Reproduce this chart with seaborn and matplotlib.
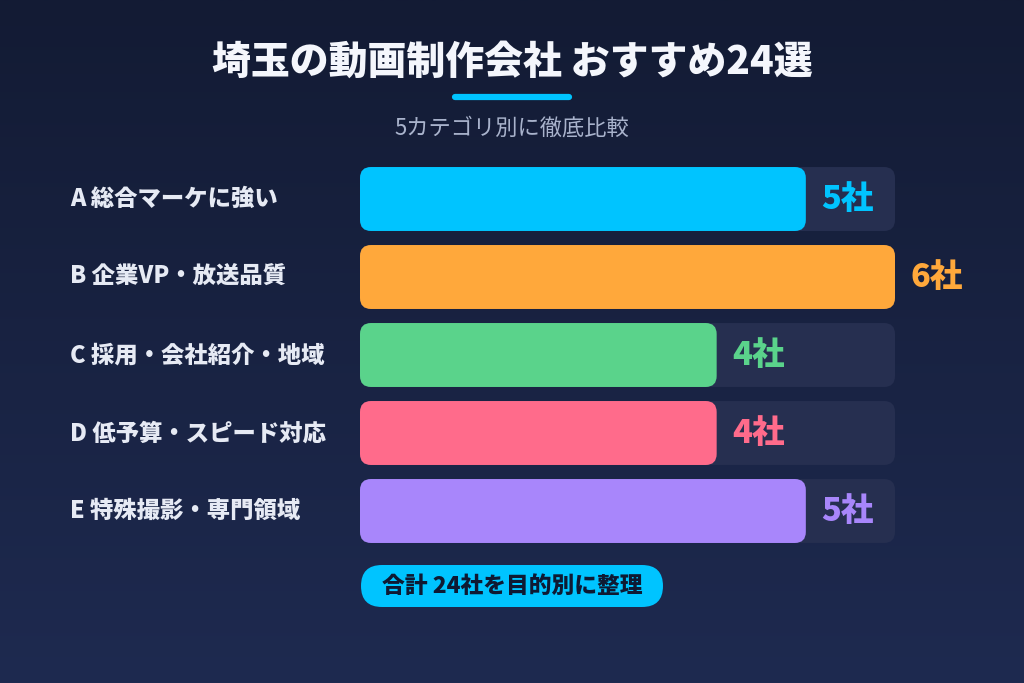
import numpy as np
import matplotlib
matplotlib.use("Agg")
import matplotlib.pyplot as plt
import matplotlib.transforms as mtransforms
from matplotlib.patches import FancyBboxPatch
from matplotlib.lines import Line2D
from matplotlib.colors import LinearSegmentedColormap
import seaborn as sns

# data
categories = ["A 総合マーケに強い", "B 企業VP・放送品質", "C 採用・会社紹介・地域",
              "D 低予算・スピード対応", "E 特殊撮影・専門領域"]
counts = [5, 6, 4, 4, 5]
bar_colors = ["#00c4ff", "#ffa83b", "#5ad38b", "#ff6b8b", "#a886fb"]
title = "埼玉の動画制作会社 おすすめ24選"
subtitle = "5カテゴリ別に徹底比較"
footer = "合計 24社を目的別に整理"
unit = "社"

bg_top = "#131b34"
bg_bottom = "#1e2a50"
track_color = "#262f50"
accent = "#00c4ff"

sns.set_theme(style="white")
plt.rcParams['font.family'] = ['Noto Sans CJK JP', 'DejaVu Sans']

fig = plt.figure(figsize=(10.24, 6.83), dpi=100)

# background gradient
bg = fig.add_axes([0, 0, 1, 1], zorder=-10)
grad = np.linspace(0, 1, 256).reshape(-1, 1)
bgmap = LinearSegmentedColormap.from_list("bg", [bg_top, bg_bottom])
bg.imshow(grad, aspect="auto", cmap=bgmap, extent=[0, 1, 0, 1], origin="upper")
bg.set_axis_off()

# bar axes (pixel layout: x 360..895, rows 78px apart)
W, H = 1024, 683
row_px = 78
top_px = 160
ax = fig.add_axes([360 / W, 1 - (top_px + row_px * 5) / H, 535 / W, row_px * 5 / H])
ax.patch.set_alpha(0)

track = [max(counts)] * len(counts)
sns.barplot(x=track, y=categories, orient="h", color=track_color, width=0.82,
            ax=ax, saturation=1)
n_track = len(ax.patches)
sns.barplot(x=counts, y=categories, hue=categories, orient="h", palette=bar_colors,
            width=0.82, ax=ax, saturation=1, legend=False)
ax.set_xlim(0, max(counts))
ax.set_ylim(len(categories) - 0.5, -0.5)

# rounded corners
px_x = 535 / max(counts)
r_px = 11
for i, p in enumerate(list(ax.patches)):
    x, y = p.get_x(), p.get_y()
    w, h = p.get_width(), p.get_height()
    fc = p.get_facecolor()
    p.remove()
    rb = FancyBboxPatch((x, y), w, h,
                        boxstyle=f"round,pad=0,rounding_size={r_px / px_x}",
                        mutation_aspect=px_x / row_px, facecolor=fc,
                        edgecolor="none", zorder=1 if i < n_track else 2)
    ax.add_patch(rb)

ax.set_axis_off()

# category labels and values
lab_tr = mtransforms.blended_transform_factory(fig.transFigure, ax.transData)
for i, (cat, v, c) in enumerate(zip(categories, counts, bar_colors)):
    ax.text(70 / W, i, cat, transform=lab_tr, ha="left", va="center",
            fontsize=16.8, fontweight="heavy", color="#e6eaf4", clip_on=False)
    ax.annotate(f"{v}{unit}", xy=(v, i), xytext=(11, 0), textcoords="offset points",
                ha="left", va="center", fontsize=23.5, fontweight="heavy", color=c,
                annotation_clip=False)

# title block
fig.text(0.5, 1 - 62 / H, title, ha="center", va="center", fontsize=28,
         fontweight="heavy", color="#f4f6fc")
fig.add_artist(Line2D([455 / W, 569 / W], [1 - 97 / H, 1 - 97 / H], color=accent,
                      linewidth=4.5, solid_capstyle="round"))
fig.text(0.5, 1 - 128 / H, subtitle, ha="center", va="center", fontsize=16,
         color="#a9b3cc")

# footer pill
pill = FancyBboxPatch((3.61, 0.76), 3.02, 0.42, boxstyle="round,pad=0,rounding_size=0.21",
                      transform=fig.dpi_scale_trans, facecolor=accent, edgecolor="none")
fig.add_artist(pill)
fig.text(0.5, 1 - 586 / H, footer, ha="center", va="center", fontsize=16.4,
         fontweight="heavy", color="#0e1a33")

fig.savefig("out.png", dpi=100)
